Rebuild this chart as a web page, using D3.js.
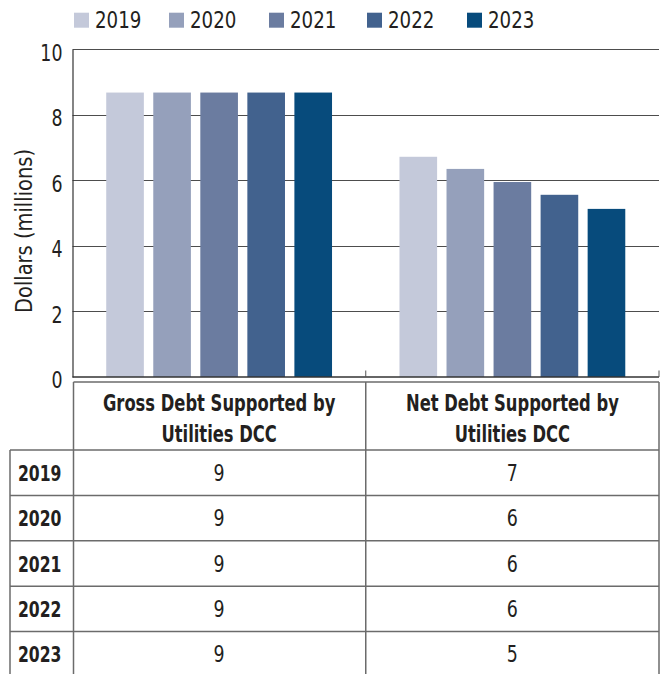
<html>
<head>
<meta charset="utf-8">
<title>Debt Supported by Utilities DCC</title>
<script src="https://cdn.jsdelivr.net/npm/d3@7"></script>
<style>
  body { margin: 0; background: #fff; }
  svg text { font-family: "DejaVu Sans Condensed", "DejaVu Sans", sans-serif; fill: #231f20; }
  .grid line { stroke: #4d4d4d; stroke-width: 1; }
  .cell { stroke: #6b6b6b; stroke-width: 1.5; }
</style>
</head>
<body>
<div id="chart"></div>
<script>
// data
var categories = ["Gross Debt Supported by Utilities DCC", "Net Debt Supported by Utilities DCC"];
var headerLines = [["Gross Debt Supported by", "Utilities DCC"], ["Net Debt Supported by", "Utilities DCC"]];
var years = ["2019", "2020", "2021", "2022", "2023"];
var grossValues = [8.68, 8.68, 8.68, 8.68, 8.68];
var netValues = [6.72, 6.35, 5.95, 5.56, 5.13];
var yTicks = [0, 2, 4, 6, 8, 10];
var colors = ["#c4c9da", "#95a0bb", "#6b7ca0", "#42628e", "#074b7c"];

var W = 670, H = 674;
var plotL = 72.5, plotR = 659, plotT = 49.3, plotB = 377;
var SX = 0.86;      // condensed look for regular text
var SXB = 0.79;     // condensed look for bold header text

var svg = d3.select("#chart").append("svg")
    .attr("width", W)
    .attr("height", H);

// places a text at (x,y) squeezed horizontally
function place(sel, x, y, sx) {
  return sel.attr("transform", "translate(" + x + "," + y + ") scale(" + sx + ",1)");
}

var x0 = d3.scaleBand().domain(categories).range([plotL, plotR]);
var bw = x0.bandwidth();
var x1 = d3.scaleBand().domain(years)
    .range([bw * 0.115, bw * 0.885])
    .paddingInner(0.2);
var y = d3.scaleLinear().domain([0, 10]).range([plotB, plotT]);

// gridlines
svg.append("g").attr("class", "grid")
  .selectAll("line")
  .data(yTicks.filter(function(d){ return d > 0; }))
  .enter().append("line")
    .attr("x1", plotL).attr("x2", plotR)
    .attr("y1", function(d){ return Math.round(y(d)) + 0.5; })
    .attr("y2", function(d){ return Math.round(y(d)) + 0.5; });

// bars
var series = [grossValues, netValues];
var groups = svg.selectAll("g.group")
    .data(categories)
  .enter().append("g")
    .attr("class", "group")
    .attr("transform", function(d){ return "translate(" + x0(d) + ",0)"; });

groups.selectAll("rect")
    .data(function(d, i){
      return years.map(function(yr, j){ return {year: yr, value: series[i][j], k: j}; });
    })
  .enter().append("rect")
    .attr("x", function(d){ return x1(d.year); })
    .attr("width", x1.bandwidth())
    .attr("y", function(d){ return y(d.value); })
    .attr("height", function(d){ return plotB - y(d.value); })
    .attr("fill", function(d){ return colors[d.k]; });

// y axis
var yAxis = d3.axisLeft(y).tickValues(yTicks).tickSize(0).tickPadding(10);
var yg = svg.append("g")
    .attr("transform", "translate(" + plotL + ",0)")
    .call(yAxis);
yg.select(".domain").attr("stroke", "#333").attr("stroke-width", 1.2);
yg.selectAll("text")
    .style("font-size", "22.5px")
    .attr("x", -10 / SX)
    .attr("dy", "0.48em")
    .attr("transform", "scale(" + SX + ",1)");

// x axis (baseline with ticks between groups)
var xg = svg.append("g")
    .attr("transform", "translate(0," + plotB + ")");
xg.append("line")
    .attr("x1", plotL).attr("x2", plotR)
    .attr("stroke", "#333").attr("stroke-width", 1.5);
xg.selectAll("line.tick")
    .data(categories)
  .enter().append("line")
    .attr("class", "tick")
    .attr("x1", function(d){ return x0(d) + bw; })
    .attr("x2", function(d){ return x0(d) + bw; })
    .attr("y1", 0).attr("y2", -6.5)
    .attr("stroke", "#555").attr("stroke-width", 1);

// y title
svg.append("text")
    .attr("transform", "translate(32,231) rotate(-90) scale(0.94,1)")
    .attr("text-anchor", "middle")
    .style("font-size", "23px")
    .text("Dollars (millions)");

// legend
var legendX = [74, 169, 269, 367, 467];
var legend = svg.selectAll("g.legend")
    .data(years)
  .enter().append("g")
    .attr("class", "legend")
    .attr("transform", function(d, i){ return "translate(" + legendX[i] + ",12.7)"; });
legend.append("rect")
    .attr("width", 15).attr("height", 15)
    .attr("fill", function(d, i){ return colors[i]; });
legend.append("text")
    .call(place, 21, 15.5, 0.9)
    .style("font-size", "22.5px")
    .text(function(d){ return d; });

// data table
var tableTop = 382, headerBottom = 450, rowH = 45.4, labelLeft = 10;
var fmt = d3.format(".0f");
var tbl = svg.append("g");

// horizontal lines
tbl.append("line").attr("class", "cell")
    .attr("x1", plotL + 1).attr("x2", plotR).attr("y1", tableTop).attr("y2", tableTop);
years.forEach(function(yr, i){
  var yy = headerBottom + i * rowH;
  tbl.append("line").attr("class", "cell")
      .attr("x1", labelLeft).attr("x2", plotR).attr("y1", yy).attr("y2", yy);
});
// vertical lines
tbl.append("line").attr("class", "cell")
    .attr("x1", labelLeft).attr("x2", labelLeft).attr("y1", headerBottom).attr("y2", H);
[plotL + 1, x0(categories[1]), plotR].forEach(function(xx){
  tbl.append("line").attr("class", "cell")
      .attr("x1", xx).attr("x2", xx).attr("y1", tableTop).attr("y2", H);
});

// header text
categories.forEach(function(c, i){
  headerLines[i].forEach(function(line, j){
    tbl.append("text")
        .call(place, x0(c) + bw / 2, 411 + j * 31, SXB)
        .attr("text-anchor", "middle")
        .style("font-size", "23px")
        .style("font-weight", "bold")
        .text(line);
  });
});

// rows
years.forEach(function(yr, i){
  var cy = headerBottom + i * rowH + rowH / 2 + 8;
  tbl.append("text")
      .call(place, 18, cy, SXB)
      .style("font-size", "22px").style("font-weight", "bold")
      .text(yr);
  series.forEach(function(vals, k){
    tbl.append("text")
        .call(place, x0(categories[k]) + bw / 2, cy, SX)
        .attr("text-anchor", "middle")
        .style("font-size", "22.5px")
        .text(fmt(vals[i]));
  });
});
</script>
</body>
</html>
